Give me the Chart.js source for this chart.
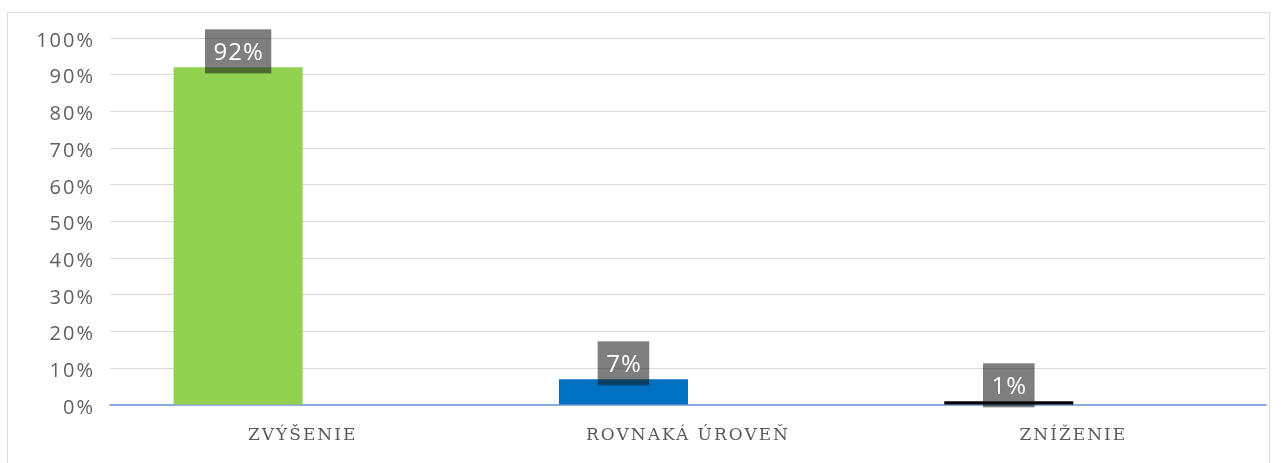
<!DOCTYPE html>
<html>
<head>
<meta charset="utf-8">
<script src="https://cdn.jsdelivr.net/npm/chart.js@4.4.1/dist/chart.umd.min.js"></script>
<style>
  html, body { margin: 0; padding: 0; background: #fff; }
  body { width: 1281px; height: 463px; overflow: hidden; position: relative; }
  .frame {
    position: absolute; left: 7px; top: 12px; width: 1263px; height: 470px;
    border: 1px solid #dedede; box-sizing: border-box;
  }
  #chart { position: absolute; left: 0; top: 0; }
</style>
</head>
<body>
<div class="frame"></div>
<canvas id="chart" width="1281" height="463"></canvas>
<script>
/* Share of answers per category */
const categories = ['ZVÝŠENIE', 'ROVNAKÁ ÚROVEŇ', 'ZNÍŽENIE'];
const shares = [92, 7, 1];
const barColors = ['#92d050', '#0070c0', '#000000'];
const yTicks = [0, 10, 20, 30, 40, 50, 60, 70, 80, 90, 100];

/* a little extra letter spacing for the axis text */
const spacedText = {
    id: 'spacedText',
    beforeDraw(chart) {
        chart.ctx.letterSpacing = '2px';
    }
};

/* grey value boxes sitting on top of each bar */
const valueBoxes = {
    id: 'valueBoxes',
    afterDatasetsDraw(chart) {
        const ctx = chart.ctx;
        const meta = chart.getDatasetMeta(0);
        ctx.save();
        ctx.letterSpacing = '1px';
        ctx.font = '24px "Open Sans", sans-serif';
        ctx.textAlign = 'center';
        ctx.textBaseline = 'middle';
        meta.data.forEach((bar, i) => {
            const text = shares[i] + '%';
            const tw = ctx.measureText(text).width;
            const w = tw + 16;
            const h = 44;
            const bottom = bar.y + 6;
            ctx.fillStyle = 'rgba(20, 20, 20, 0.55)';
            ctx.fillRect(bar.x - w / 2, bottom - h, w, h);
            ctx.fillStyle = '#ffffff';
            ctx.fillText(text, bar.x + 0.5, bottom - h / 2 + 2);
        });
        ctx.restore();
    }
};

new Chart(document.getElementById('chart'), {
    type: 'bar',
    data: {
        labels: categories,
        datasets: [
            {
                data: shares,
                backgroundColor: barColors,
                borderWidth: 0
            },
            {
                // empty second series keeps the bars left of the category centre
                data: categories.map(() => null),
                backgroundColor: '#ffffff'
            }
        ]
    },
    options: {
        responsive: false,
        animation: false,
        devicePixelRatio: 1,
        layout: {
            padding: { left: 0, right: 15, top: 38, bottom: 0 }
        },
        categoryPercentage: 0.67,
        barPercentage: 1.0,
        plugins: {
            legend: { display: false },
            tooltip: { enabled: false }
        },
        scales: {
            x: {
                grid: { display: false, drawTicks: false },
                border: { display: true, color: '#8faadc', width: 1.5 },
                ticks: {
                    padding: 20,
                    color: '#595959',
                    maxRotation: 0,
                    autoSkip: false,
                    font: { family: '"DejaVu Serif", serif', size: 17 }
                },
                afterFit: (scale) => { scale.height = 58; }
            },
            y: {
                min: 0,
                max: 100,
                afterBuildTicks: (scale) => {
                    scale.ticks = yTicks.map(v => ({ value: v }));
                },
                grid: {
                    drawTicks: false,
                    color: (c) => c.tick && c.tick.value === 0 ? '#8faadc' : '#d9d9d9',
                    lineWidth: 1
                },
                border: { display: false },
                ticks: {
                    padding: 15,
                    labelOffset: 3,
                    color: '#5f5f5f',
                    autoSkip: false,
                    font: { family: '"Open Sans", sans-serif', size: 20 },
                    callback: (v) => v + '%'
                },
                afterFit: (scale) => { scale.width = 110; }
            }
        }
    },
    plugins: [spacedText, valueBoxes]
});
</script>
</body>
</html>
